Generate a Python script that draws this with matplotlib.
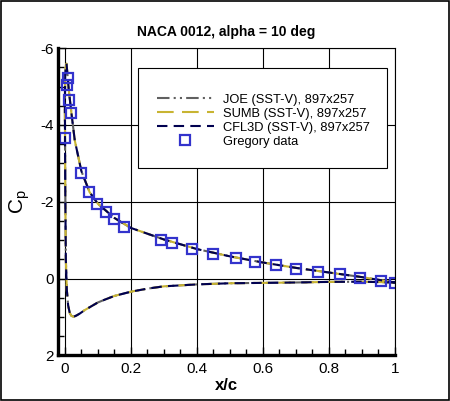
import numpy as np
import matplotlib
matplotlib.use("Agg")
import matplotlib.pyplot as plt
from matplotlib.patches import Rectangle
from matplotlib.ticker import MultipleLocator, FuncFormatter

plt.rcParams['font.family'] = ['Liberation Sans', 'DejaVu Sans']
plt.rcParams['axes.unicode_minus'] = False

# CFD surface Cp, lower surface from trailing edge to leading edge
x_lower = [1.0, 0.9, 0.8, 0.7, 0.6, 0.5, 0.4, 0.3, 0.25, 0.2, 0.15, 0.12, 0.1, 0.08,
           0.06, 0.045, 0.035, 0.027, 0.02, 0.015, 0.01, 0.006, 0.003, 0.0015, 0.0005, 0.0]
cp_lower = [0.10, 0.08, 0.085, 0.10, 0.11, 0.12, 0.15, 0.20, 0.26, 0.34, 0.45, 0.55, 0.62, 0.72,
            0.82, 0.91, 0.96, 0.99, 0.97, 0.90, 0.70, 0.30, -0.5, -2.0, -3.5, -4.6]
# upper surface from leading edge to trailing edge
x_upper = [0.0, 0.001, 0.003, 0.005, 0.008, 0.012, 0.02, 0.03, 0.05, 0.075, 0.1, 0.15,
           0.2, 0.3, 0.4, 0.5, 0.6, 0.7, 0.8, 0.9, 1.0]
cp_upper = [-4.6, -5.3, -5.55, -5.6, -5.3, -4.9, -4.3, -3.6, -2.8, -2.25, -1.95, -1.58,
            -1.32, -1.02, -0.77, -0.58, -0.42, -0.28, -0.16, -0.04, 0.10]

# Gregory experimental data
x_exp = [0.0015, 0.005, 0.011, 0.014, 0.02, 0.05, 0.074, 0.098, 0.126, 0.15, 0.178,
         0.29, 0.326, 0.385, 0.45, 0.517, 0.577, 0.639, 0.70, 0.767, 0.835, 0.895, 0.957, 1.0]
cp_exp = [-3.67, -5.04, -5.23, -4.66, -4.30, -2.75, -2.25, -1.95, -1.74, -1.56, -1.35,
          -1.0, -0.93, -0.78, -0.65, -0.55, -0.44, -0.35, -0.26, -0.16, -0.12, -0.01, 0.07, 0.11]

labels = ['JOE (SST-V), 897x257', 'SUMB (SST-V), 897x257', 'CFL3D (SST-V), 897x257', 'Gregory data']

x_cfd = x_lower + x_upper
cp_cfd = cp_lower + cp_upper

fig = plt.figure(figsize=(4.5, 4.01), dpi=100)
ax = fig.add_axes([0.128, 0.1135, 0.7497, 0.7665])

ax.plot(x_cfd, cp_cfd, color='#606060', lw=1.5, dashes=(6, 2, 1, 2, 1, 2), label=labels[0])
ax.plot(x_cfd, cp_cfd, color='#c8b432', lw=1.5, dashes=(8, 4), label=labels[1])
ax.plot(x_cfd, cp_cfd, color='#000050', lw=1.5, dashes=(5, 3), label=labels[2])
ax.plot(x_exp, cp_exp, ls='none', marker='s', ms=6.5, mfc='none', mec='#3333cc',
        mew=1.6, label=labels[3])

ax.set_xlim(-0.022, 1.0)
ax.set_ylim(2, -6)
ax.xaxis.set_major_locator(MultipleLocator(0.2))
ax.xaxis.set_minor_locator(MultipleLocator(0.05))
ax.yaxis.set_major_locator(MultipleLocator(2))
ax.yaxis.set_minor_locator(MultipleLocator(0.5))
ax.xaxis.set_major_formatter(FuncFormatter(lambda v, p: '%g' % round(v, 2)))
ax.yaxis.set_major_formatter(FuncFormatter(lambda v, p: '%g' % round(v, 2)))
ax.grid(True, which='major', color='black', lw=0.8)
ax.tick_params(which='both', direction='in', top=False, right=False, labelsize=11, color='black')
ax.tick_params(which='major', length=6, width=1)
ax.tick_params(which='minor', length=4, width=1)
ax.tick_params(axis='x', pad=5)
ax.tick_params(axis='y', pad=3)
for s in ['left', 'bottom']:
    ax.spines[s].set_linewidth(2.4)
for s in ['top', 'right']:
    ax.spines[s].set_linewidth(0.8)

ax.set_title('NACA 0012, alpha = 10 deg', fontsize=10, fontweight='bold', pad=9)
ax.set_xlabel('x/c', fontsize=12, fontweight='bold', labelpad=1)
ax.set_ylabel(r'C$_\mathregular{p}$', fontsize=15, labelpad=6)

# legend box, drawn inside the axes so the legend sits on top of it
box = Rectangle((0.3067, 0.581), 0.5533, 0.2494, transform=fig.transFigure,
                facecolor='white', edgecolor='black', lw=0.8, zorder=4, clip_on=False)
ax.add_patch(box)
leg = ax.legend(loc='upper left', bbox_to_anchor=(153 / 450, 1 - 90 / 401),
                bbox_transform=fig.transFigure, frameon=False, fontsize=9.3,
                handlelength=4.4, handletextpad=0.7, labelspacing=0.15, borderaxespad=0,
                borderpad=0.3)
leg.set_zorder(6)

# outer frame
fig.patches.append(Rectangle((0.002, 0.002), 0.996, 0.996, transform=fig.transFigure,
                             facecolor='none', edgecolor='black', lw=1.2))

fig.savefig('out.png', dpi=100)
